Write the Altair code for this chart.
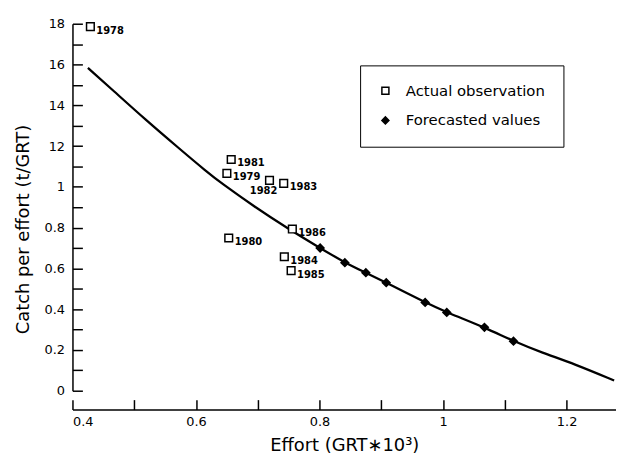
import altair as alt
import pandas as pd

# Observed catch per effort (open squares)
obs_year = ["1978", "1979", "1980", "1981", "1982", "1983", "1984", "1985", "1986"]
obs_x = [0.429, 0.650, 0.653, 0.657, 0.719, 0.742, 0.743, 0.754, 0.756]
obs_y = [1.786, 1.066, 0.749, 1.134, 1.032, 1.017, 0.657, 0.589, 0.793]

# Forecasted values (filled diamonds)
fc_x = [0.801, 0.841, 0.875, 0.908, 0.971, 1.006, 1.067, 1.114]
fc_y = [0.700, 0.628, 0.579, 0.530, 0.433, 0.384, 0.311, 0.243]

# Fitted curve
curve_x = [0.425, 0.465, 0.518, 0.572, 0.617, 0.641, 0.695, 0.748, 0.801, 0.841,
           0.875, 0.908, 0.971, 1.006, 1.067, 1.114, 1.160, 1.213, 1.277]
curve_y = [1.583, 1.475, 1.330, 1.190, 1.075, 1.018, 0.902, 0.797, 0.700, 0.628,
           0.579, 0.530, 0.433, 0.384, 0.311, 0.243, 0.187, 0.131, 0.050]

x_ticks = [0.4, 0.5, 0.6, 0.7, 0.8, 0.9, 1.0, 1.1, 1.2]
x_labels = [0.4, 0.6, 0.8, 1.0, 1.2]
y_ticks = [0.0, 0.1, 0.2, 0.3, 0.4, 0.5, 0.6, 0.7, 0.8, 0.9, 1.0, 1.1, 1.2, 1.3, 1.4, 1.5, 1.6, 1.7, 1.8]
y_labels = [0.0, 0.2, 0.4, 0.6, 0.8, 1.0, 1.2, 1.4, 1.6, 1.8]

types = ["Actual observation", "Forecasted values"]

W, H = 548, 370
XOFF = 19
FONT = "DejaVu Sans"

obs = pd.DataFrame({"x": obs_x, "y": obs_y, "year": obs_year, "type": types[0]})
fc = pd.DataFrame({"x": fc_x, "y": fc_y, "year": "", "type": types[1]})
pts = pd.concat([obs, fc], ignore_index=True)
curve = pd.DataFrame({"x": curve_x, "y": curve_y})

xscale = alt.Scale(domain=[0.4, 1.28], nice=False, zero=False)
yscale = alt.Scale(domain=[0, 1.8], nice=False, zero=False)

# Curve layer carries the inward-pointing tick axes
line = alt.Chart(curve).mark_line(color="black", strokeWidth=2.3, interpolate="basis").encode(
    x=alt.X("x:Q", scale=xscale, title="", axis=alt.Axis(
        orient="top", offset=-(H + XOFF), values=x_ticks, labels=False, domain=False,
        ticks=True, tickSize=10, tickWidth=1.5, tickColor="black", grid=False)),
    y=alt.Y("y:Q", scale=yscale, title="", axis=alt.Axis(
        orient="right", offset=-W, values=y_ticks, labels=False, domain=False,
        ticks=True, tickSize=10, tickWidth=1.5, tickColor="black", grid=False)),
)

points = alt.Chart(pts).mark_point(filled=True, strokeWidth=1.5, opacity=1, size=60).encode(
    x=alt.X("x:Q", scale=xscale, axis=alt.Axis(
        orient="bottom", offset=XOFF, values=x_labels, ticks=False, domain=True,
        domainColor="black", domainWidth=1.5, labelPadding=6, grid=False,
        labelExpr="datum.value == 1 ? '1' : format(datum.value, '.1f')",
        title="Effort (GRT\u221710\u00b3)", titlePadding=8)),
    y=alt.Y("y:Q", scale=yscale, axis=alt.Axis(
        orient="left", values=y_labels, ticks=False, domain=True,
        domainColor="black", domainWidth=1.5, labelPadding=8, grid=False,
        labelExpr="datum.value == 0 ? '0' : datum.value == 1 ? '1' : (datum.value > 1.05 ? format(datum.value * 10, '.0f') : format(datum.value, '.1f'))",
        title="Catch per effort (t/GRT)", titleY=207, titlePadding=12)),
    shape=alt.Shape("type:N", scale=alt.Scale(domain=types, range=["square", "diamond"]),
                    legend=alt.Legend(title=None, orient="none", legendX=290, legendY=42,
                                      strokeColor="black", padding=18, rowPadding=14,
                                      labelFontSize=15, labelFont=FONT, labelColor="black",
                                      symbolSize=50, symbolStrokeWidth=1.5,
                                      symbolStrokeColor="black", labelOffset=13)),
    fill=alt.Fill("type:N", scale=alt.Scale(domain=types, range=["white", "black"]), legend=None),
    stroke=alt.Stroke("type:N", scale=alt.Scale(domain=types, range=["black", "black"]), legend=None),
)

labels = alt.Chart(obs).transform_filter("datum.year != '1982'").mark_text(
    align="left", baseline="middle", dx=6, dy=4, fontSize=10, font=FONT, fontWeight="bold", color="black"
).encode(x=alt.X("x:Q", scale=xscale, axis=None), y=alt.Y("y:Q", scale=yscale, axis=None), text="year:N")

label82 = alt.Chart(obs).transform_filter("datum.year == '1982'").mark_text(
    align="center", baseline="middle", dx=-6, dy=11, fontSize=10, font=FONT, fontWeight="bold", color="black"
).encode(x=alt.X("x:Q", scale=xscale, axis=None), y=alt.Y("y:Q", scale=yscale, axis=None), text="year:N")

chart = alt.layer(line, points, labels, label82).resolve_axis(x="independent", y="independent").properties(
    width=W, height=H,
    autosize=alt.AutoSizeParams(type="none"),
    padding={"left": 65, "top": 14, "right": 0, "bottom": 68},
).configure_axis(
    labelFont=FONT, labelFontSize=13, labelColor="black",
    titleFont=FONT, titleFontSize=18, titleFontWeight="normal", titleColor="black",
).configure_view(stroke=None)

chart.save("out.html", embed_options={"renderer": "svg", "actions": False})
